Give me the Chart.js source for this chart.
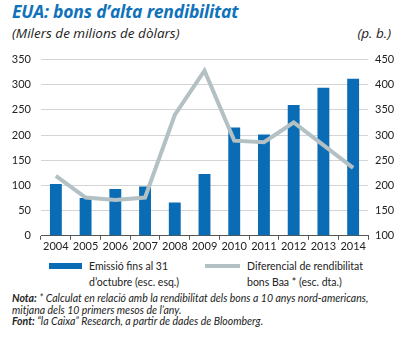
<!DOCTYPE html>
<html>
<head>
<meta charset="utf-8">
<script src="https://cdn.jsdelivr.net/npm/chart.js@4"></script>
<style>
  body { margin: 0; width: 406px; height: 338px; background: #fff; font-family: Lato, sans-serif; color: #222; position: relative; overflow: hidden; }
  .abs { position: absolute; white-space: nowrap; }
  #title { left: 12px; top: -1px; font-family: 'Open Sans', sans-serif; font-size: 17.5px; font-weight: bold; font-style: italic; color: #0f72ba; letter-spacing: -0.2px; }
  #unitL { left: 12px; top: 24px; font-family: 'Open Sans', sans-serif; font-size: 13.5px; font-style: italic; }
  #unitR { right: 15px; top: 24px; font-family: 'Open Sans', sans-serif; font-size: 13.5px; font-style: italic; }
  #wrap { position: absolute; left: 0; top: 43px; width: 406px; height: 210px; }
  .leg { font-size: 10.5px; line-height: 16px; }
  .swatch { position: absolute; }
  #note { left: 12px; top: 293px; font-size: 10.5px; line-height: 11.5px; font-style: italic; }
</style>
</head>
<body>
<div id="title" class="abs">EUA: bons d’alta rendibilitat</div>
<div id="unitL" class="abs">(Milers de milions de dòlars)</div>
<div id="unitR" class="abs">(p. b.)</div>
<div id="wrap"><canvas id="chart" width="406" height="210"></canvas></div>

<div class="swatch" style="left:49px;top:263px;width:33px;height:6px;background:#0a6cb5"></div>
<div id="leg0" class="abs leg" style="left:89px;top:258px"></div>
<div class="swatch" style="left:205px;top:264px;width:35px;height:4px;background:#b3c1c4"></div>
<div id="leg1" class="abs leg" style="left:247px;top:258px"></div>

<div id="note" class="abs"><b>Nota:</b> * Calculat en relació amb la rendibilitat dels bons a 10 anys nord-americans,<br>mitjana dels 10 primers mesos de l’any.<br><b>Font:</b> “la Caixa” Research, a partir de dades de Bloomberg.</div>

<script>
const years = ['2004', '2005', '2006', '2007', '2008', '2009', '2010', '2011', '2012', '2013', '2014'];
const issuance = [103, 75, 93, 98, 66, 123, 215, 201, 260, 294, 312];
const spread = [219, 176, 171, 176, 340, 428, 289, 286, 325, 280, 235];
const issuanceLabel = ['Emissió fins al 31', 'd’octubre (esc. esq.)'];
const spreadLabel = ['Diferencial de rendibilitat', 'bons Baa * (esc. dta.)'];

document.getElementById('leg0').innerHTML = issuanceLabel.join('<br>');
document.getElementById('leg1').innerHTML = spreadLabel.join('<br>');

const tickFont = { family: 'Lato', size: 11 };

var ctx = document.getElementById('chart').getContext('2d');
var chart = new Chart(ctx, {
  type: 'bar',
  data: {
    labels: years,
    datasets: [
      {
        type: 'line',
        label: spreadLabel.join(' '),
        data: spread,
        yAxisID: 'yR',
        borderColor: '#b3c1c4',
        borderWidth: 4,
        pointRadius: 0,
        tension: 0,
        order: 0,
      },
      {
        type: 'bar',
        label: issuanceLabel.join(' '),
        data: issuance,
        yAxisID: 'yL',
        backgroundColor: '#0a6cb5',
        barPercentage: 0.4,
        categoryPercentage: 1,
        order: 1,
      },
    ],
  },
  options: {
    responsive: false,
    animation: false,
    layout: { padding: { top: 3, left: 0, right: 0, bottom: 0 } },
    plugins: { legend: { display: false }, tooltip: { enabled: false } },
    scales: {
      x: {
        offset: true,
        grid: { offset: true, drawOnChartArea: false, drawTicks: true, tickLength: 4, color: '#555' },
        border: { color: '#555', width: 1 },
        ticks: { font: tickFont, color: '#222', padding: 0, maxRotation: 0 },
      },
      yL: {
        position: 'left',
        min: 0, max: 350,
        ticks: { stepSize: 50, font: tickFont, color: '#222', padding: 10 },
        grid: { color: '#d4d4d4', drawTicks: false },
        border: { display: false },
        afterFit: (s) => { s.width = 41; },
      },
      yR: {
        position: 'right',
        min: 100, max: 450,
        ticks: { stepSize: 50, font: tickFont, color: '#222', padding: 7 },
        grid: { display: false, drawTicks: false },
        border: { display: false },
        afterFit: (s) => { s.width = 38; },
      },
    },
  },
});
</script>
</body>
</html>
